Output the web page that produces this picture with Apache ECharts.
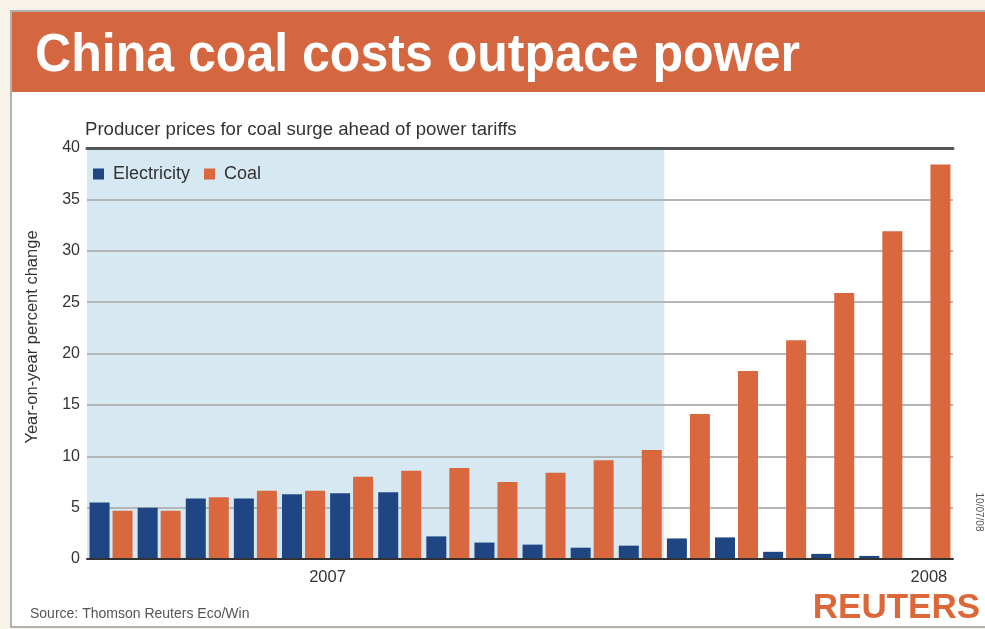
<!DOCTYPE html>
<html>
<head>
<meta charset="utf-8">
<script src="https://cdn.jsdelivr.net/npm/echarts@6/dist/echarts.min.js"></script>
<style>
html,body{margin:0;padding:0;background:#f7f3e8;}
#c{width:985px;height:629px;}
</style>
</head>
<body>
<div id="c"></div>
<script>
var months = ['Jan 2007','Feb 2007','Mar 2007','Apr 2007','May 2007','Jun 2007','Jul 2007','Aug 2007','Sep 2007','Oct 2007','Nov 2007','Dec 2007','Jan 2008','Feb 2008','Mar 2008','Apr 2008','May 2008','Jun 2008'];
var electricity = [5.5, 5.0, 5.9, 5.9, 6.3, 6.4, 6.5, 2.2, 1.6, 1.4, 1.1, 1.3, 2.0, 2.1, 0.7, 0.5, 0.3, 0.1];
var coal = [4.7, 4.7, 6.0, 6.65, 6.65, 8.0, 8.6, 8.85, 7.5, 8.4, 9.6, 10.6, 14.1, 18.3, 21.3, 25.9, 31.9, 38.4];
var yearLabels = {4: '2007', 17: '2008'};
// 2007 band: month index 0 to 12 (start of Jan 2008), full height
var shade2007 = [[0, 40], [12, 40]];

var FONT = '"Liberation Sans", Arial, sans-serif';
var chart = echarts.init(document.getElementById('c'));
chart.setOption({
  backgroundColor: '#f7f3e8',
  animation: false,
  textStyle: {fontFamily: 'Liberation Sans, Arial, sans-serif'},
  graphic: [
    {type: 'rect', z: -10, shape: {x: 11, y: 11, width: 990, height: 616}, style: {fill: '#ffffff', stroke: '#9a9a9a', lineWidth: 1.5}},
    {type: 'rect', z: -9, shape: {x: 12, y: 12, width: 980, height: 80}, style: {fill: '#d4673f'}},
    {type: 'text', z: 10, x: 35, y: 56, scaleX: 0.927,
      style: {text: 'China coal costs outpace power', fill: '#ffffff', font: 'bold 54px ' + FONT, verticalAlign: 'middle', align: 'left'}},
    {type: 'text', z: 10, x: 85, y: 130,
      style: {text: 'Producer prices for coal surge ahead of power tariffs', fill: '#333333', font: '18.6px ' + FONT, verticalAlign: 'middle'}},
    {type: 'text', z: 10, x: 32, y: 337, rotation: Math.PI / 2,
      style: {text: 'Year-on-year percent change', fill: '#333333', font: '16.5px ' + FONT, verticalAlign: 'middle', align: 'center'}},
    {type: 'text', z: 10, x: 30, y: 614,
      style: {text: 'Source: Thomson Reuters Eco/Win', fill: '#555555', font: '14px ' + FONT, verticalAlign: 'middle'}},
    {type: 'text', z: 10, x: 980, y: 608,
      style: {text: 'REUTERS', fill: '#dc683a', font: 'bold 35px ' + FONT, verticalAlign: 'middle', align: 'right'}},
    {type: 'text', z: 10, x: 979, y: 512, rotation: -Math.PI / 2,
      style: {text: '10/07/08', fill: '#555555', font: '10px ' + FONT, verticalAlign: 'middle', align: 'center'}}
  ],
  legend: {
    left: 88, top: 160, itemWidth: 11, itemHeight: 11, itemGap: 14,
    icon: 'rect',
    data: ['Electricity', 'Coal'],
    textStyle: {fontSize: 18, color: '#333333', padding: [0, 0, 0, 4]}
  },
  grid: {left: 87, right: 32, top: 148, bottom: 70},
  xAxis: [
    {type: 'category', data: months, z: 3,
      axisLine: {lineStyle: {color: '#333333', width: 2}},
      axisTick: {show: false}, splitLine: {show: false}, splitArea: {show: false},
      axisLabel: {interval: 0, fontSize: 16.5, color: '#333333', margin: 10,
        formatter: function (v, i) { var t = yearLabels[i]; if (!t) return ''; return i === 4 ? '{s|' + t + '}' : t; },
        rich: {s: {fontSize: 16.5, color: '#333333', padding: [0, 0, 0, 48]}}}
    },
    {type: 'value', min: 0, max: months.length, position: 'top', z: 3,
      axisLine: {show: true, lineStyle: {color: '#555555', width: 3}},
      axisTick: {show: false}, axisLabel: {show: false}, splitLine: {show: false}, splitArea: {show: false}}
  ],
  yAxis: {
    type: 'value', min: 0, max: 40, interval: 5, z: 1,
    axisLine: {show: false}, axisTick: {show: false},
    axisLabel: {fontSize: 16, color: '#333333', margin: 7},
    splitLine: {lineStyle: {color: '#b3b6b8', width: 2}}
  },
  series: [
    {name: 'shade', type: 'line', xAxisIndex: 1, data: shade2007, z: 0, silent: true,
      showSymbol: false, symbol: 'none', lineStyle: {width: 0, opacity: 0},
      areaStyle: {color: '#d6e8f2', opacity: 1}, legendHoverLink: false},
    {name: 'Electricity', type: 'bar', data: electricity, barWidth: 20, barGap: '15%', z: 2,
      itemStyle: {color: '#1f4682'}},
    {name: 'Coal', type: 'bar', data: coal, barWidth: 20, z: 2,
      itemStyle: {color: '#d9683e'}}
  ]
});
</script>
</body>
</html>
